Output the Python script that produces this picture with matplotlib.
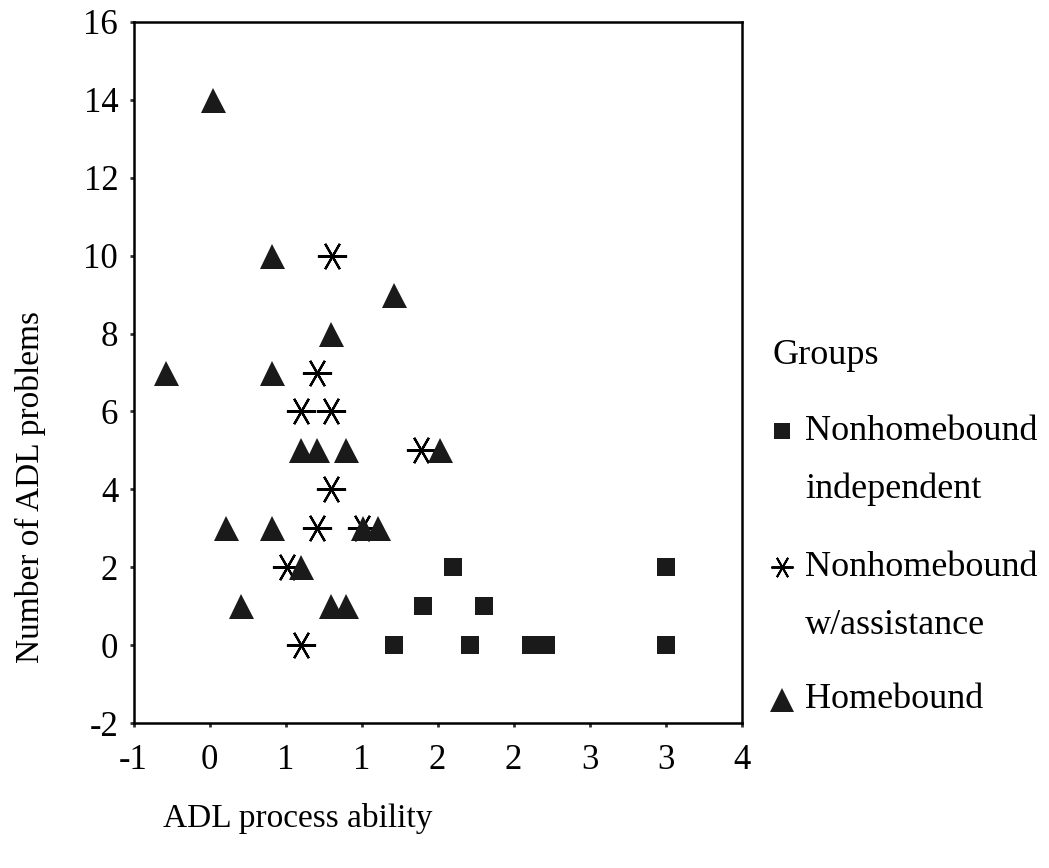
import matplotlib
matplotlib.use("Agg")
import matplotlib.pyplot as plt
from matplotlib.lines import Line2D

plt.rcParams["font.family"] = ["Liberation Serif", "DejaVu Serif"]

# Axis scale: nine evenly spaced ticks from -1 to 4, labelled as printed
x_ticks = [-1.0, -0.375, 0.25, 0.875, 1.5, 2.125, 2.75, 3.375, 4.0]
x_tick_labels = ["-1", "0", "1", "1", "2", "2", "3", "3", "4"]
y_ticks = [-2, 0, 2, 4, 6, 8, 10, 12, 14, 16]

# Nonhomebound independent
indep_x = [1.14, 1.38, 1.63, 1.88, 1.77, 2.27, 2.39, 3.38, 3.38]
indep_y = [0, 1, 2, 1, 0, 0, 0, 2, 0]

# Nonhomebound with assistance
assist_x = [0.63, 0.51, 0.38, 0.62, 1.36, 0.62, 0.51, 0.88, 0.26, 0.38]
assist_y = [10, 7, 6, 6, 5, 4, 3, 3, 2, 0]

# Homebound
home_x = [-0.35, 0.14, 1.14, 0.62, -0.73, 0.14, 0.38, 0.51, 0.75, 1.52,
          -0.24, 0.14, 0.89, 1.01, 0.38, -0.12, 0.62, 0.75]
home_y = [14, 10, 9, 8, 7, 7, 5, 5, 5, 5,
          3, 3, 3, 3, 2, 1, 1, 1]

group_names = [["Nonhomebound", "independent"],
               ["Nonhomebound", "w/assistance"],
               ["Homebound"]]

W, H = 1049, 868
fig = plt.figure(figsize=(W / 100, H / 100), dpi=100)
ax = fig.add_axes([133.5 / W, 1 - 723.3 / H, (741.7 - 133.5) / W, (723.3 - 21.7) / H])

mark_col = "#1a1a1a"
asterisk = (6, 2, 90)
styles = [
    dict(marker="s", color=mark_col, markeredgewidth=0),
    dict(marker=asterisk, markeredgecolor="black", markerfacecolor="none"),
    dict(marker="^", color=mark_col, markeredgewidth=0),
]

ax.plot(indep_x, indep_y, linestyle="none", markersize=13, **styles[0])
ax.plot(assist_x, assist_y, linestyle="none", markersize=21,
        markeredgewidth=1.6, **styles[1])
ax.plot(home_x, home_y, linestyle="none", markersize=18, **styles[2])

ax.set_xlim(-1, 4)
ax.set_ylim(-2, 16)
ax.set_xticks(x_ticks)
ax.set_xticklabels(x_tick_labels)
ax.set_yticks(y_ticks)
ax.set_yticklabels([str(v) for v in y_ticks])
ax.tick_params(axis="both", direction="out", length=3, width=2, labelsize=25,
               color="#333333")
ax.tick_params(axis="x", pad=12)
ax.tick_params(axis="y", pad=8)
for side in ax.spines.values():
    side.set_linewidth(1.8)
    side.set_color("black")

fig.text(163 / W, 1 - 818 / H, "ADL process ability", fontsize=24,
         ha="left", va="center")
fig.text(30 / W, 1 - 487 / H, "Number of ADL problems", fontsize=24,
         rotation=90, ha="center", va="center")

# Legend block: title, then one marker per group beside its (wrapped) name
fig.text(772 / W, 1 - 356 / H, "Groups", fontsize=26, ha="left", va="center")
entry_top = [431, 567, 700]
line_gap = 58
legend_sizes = [12, 16, 17]
for names, top, style, msize in zip(group_names, entry_top, styles, legend_sizes):
    extra = {"markeredgewidth": 1.4} if style["marker"] == asterisk else {}
    fig.add_artist(Line2D([782 / W], [1 - top / H], transform=fig.transFigure,
                          linestyle="none", markersize=msize, **style, **extra))
    for i, line in enumerate(names):
        fig.text(805 / W, 1 - (top + i * line_gap) / H, line, fontsize=26,
                 ha="left", va="center")

fig.savefig("out.png", dpi=100)
